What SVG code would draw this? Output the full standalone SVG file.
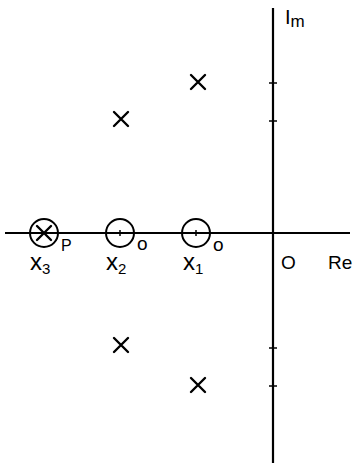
<svg xmlns="http://www.w3.org/2000/svg" width="353" height="466" viewBox="0 0 353 466">
<style>
.ax{stroke:#000;stroke-width:2.2;fill:none}
.tk{stroke:#000;stroke-width:1.5}
.x{stroke:#000;stroke-width:2.4;stroke-linecap:round}
.c{stroke:#000;stroke-width:2;fill:none}
.t{font-family:"Liberation Sans",sans-serif;fill:#000}
</style>
<rect width="353" height="466" fill="#fff"/>
<g id="connectors">
<line class="ax" x1="5" y1="233" x2="350" y2="233"/>
<line class="ax" x1="273" y1="8" x2="273" y2="463"/>
<line class="tk" x1="269" y1="83" x2="277" y2="83"/>
<line class="tk" x1="269" y1="121" x2="277" y2="121"/>
<line class="tk" x1="269" y1="348" x2="277" y2="348"/>
<line class="tk" x1="269" y1="386" x2="277" y2="386"/>
</g>
<g id="pole1"><path class="x" d="M191 75L205 89M205 75L191 89"/></g>
<g id="pole2"><path class="x" d="M114 112L128 126M128 112L114 126"/></g>
<g id="pole3"><path class="x" d="M114 338L128 352M128 338L114 352"/></g>
<g id="pole4"><path class="x" d="M191 378L205 392M205 378L191 392"/></g>
<g id="x3"><circle class="c" cx="44" cy="233" r="14"/><path class="x" d="M37 226L51 240M51 226L37 240"/>
<text class="t" x="61" y="251" font-size="16">P</text>
<text class="t" x="30" y="270" font-size="24">x<tspan font-size="15" dy="4">3</tspan></text></g>
<g id="x2"><circle class="c" cx="120" cy="233" r="14"/><line class="tk" x1="120" y1="230" x2="120" y2="236"/>
<text class="t" x="137" y="250" font-size="19">o</text>
<text class="t" x="106" y="270" font-size="24">x<tspan font-size="15" dy="4">2</tspan></text></g>
<g id="x1"><circle class="c" cx="196" cy="233" r="14"/><line class="tk" x1="196" y1="230" x2="196" y2="236"/>
<text class="t" x="213" y="251" font-size="19">o</text>
<text class="t" x="183" y="270" font-size="24">x<tspan font-size="15" dy="4">1</tspan></text></g>
<g id="labels">
<text class="t" x="281" y="269" font-size="19">O</text>
<text class="t" x="328" y="269" font-size="19">Re</text>
<text class="t" x="285" y="24" font-size="20">I<tspan font-size="17" dy="3">m</tspan></text>
</g>
</svg>
